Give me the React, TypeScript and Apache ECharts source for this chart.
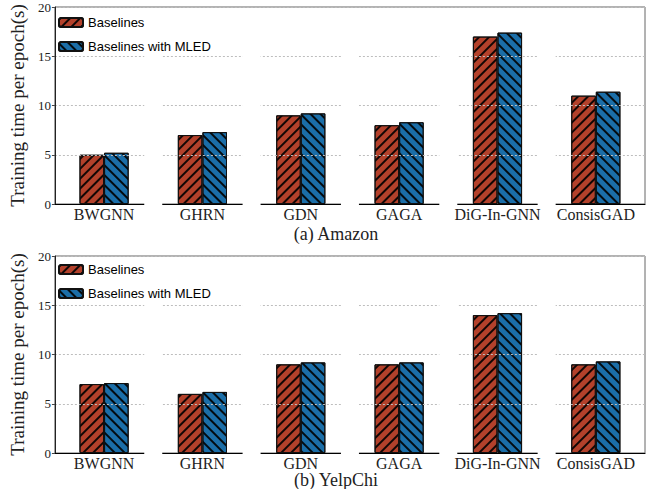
import React, { useEffect, useRef } from "react";
import * as echarts from "echarts";

const categories = ["BWGNN", "GHRN", "GDN", "GAGA", "DiG-In-GNN", "ConsisGAD"];
const amazonBaselines = [5.0, 7.0, 9.0, 8.0, 17.0, 11.0];
const amazonMLED = [5.2, 7.3, 9.2, 8.3, 17.4, 11.4];
const yelpBaselines = [7.0, 6.0, 9.0, 9.0, 14.0, 9.0];
const yelpMLED = [7.1, 6.2, 9.2, 9.2, 14.2, 9.3];
const yTicks = [0, 5, 10, 15, 20];
const seriesNames = ["Baselines", "Baselines with MLED"];
const captions = ["(a) Amazon", "(b) YelpChi"];
const yTitle = "Training time per epoch(s)";

const RED = "#B3412B";
const BLUE = "#1B6EA8";
const SERIF = "'Liberation Serif', 'Times New Roman', serif";
const SANS = "'Liberation Sans', Arial, sans-serif";

const hatch = (dir: number) => ({
  symbol: "rect",
  symbolSize: 1,
  color: "rgba(0,0,0,0.9)",
  dashArrayX: [1, 0],
  dashArrayY: [1.2, 4.4],
  rotation: dir * Math.PI / 4,
});

export default function App() {
  const ref = useRef<HTMLDivElement>(null);
  useEffect(() => {
    if (!ref.current) return;
    const chart = echarts.init(ref.current, undefined, { renderer: "svg" });
    const grids = [
      { left: 51, right: 10, top: 7, height: 197 },
      { left: 51, right: 10, top: 256, height: 197 },
    ];
    const data = [
      [amazonBaselines, amazonMLED],
      [yelpBaselines, yelpMLED],
    ];
    const xAxis: any[] = [];
    const yAxis: any[] = [];
    const series: any[] = [];
    const legend: any[] = [];
    grids.forEach((g, gi) => {
      xAxis.push({
        type: "category",
        gridIndex: gi,
        data: categories,
        z: 3,
        axisLine: { lineStyle: { color: "#000", width: 1.2 } },
        axisTick: { alignWithLabel: true, length: 3, lineStyle: { color: "#000" } },
        axisLabel: {
          interval: 0,
          fontFamily: SERIF,
          fontSize: 16,
          lineHeight: 15,
          color: "#222",
          margin: 3,
        },
      });
      yAxis.push({
        type: "value",
        gridIndex: gi,
        min: 0,
        max: 20,
        interval: 5,
        z: 3,
        name: yTitle,
        nameLocation: "middle",
        nameGap: 22,
        nameTextStyle: { fontFamily: SERIF, fontSize: 19, color: "#222" },
        axisLine: { show: true, lineStyle: { color: "#222", width: 1 } },
        axisTick: { show: true, length: 3, lineStyle: { color: "#444" } },
        axisLabel: {
          fontFamily: SERIF,
          fontSize: 13,
          color: "#222",
          margin: 4,
          formatter: (v: number) => (yTicks.includes(v) ? String(v) : ""),
        },
        splitLine: { show: true, lineStyle: { color: "#bdbdbd", type: [2, 2], width: 1 } },
      });
      seriesNames.forEach((name, si) => {
        series.push({
          type: "bar",
          name,
          xAxisIndex: gi,
          yAxisIndex: gi,
          data: data[gi][si],
          barWidth: "25%",
          barGap: "0%",
          itemStyle: {
            color: si === 0 ? RED : BLUE,
            borderColor: "#111",
            borderWidth: 1,
            decal: hatch(si === 0 ? -1 : 1),
          },
        });
      });
      series.push({
        type: "custom",
        name: "gaps" + gi,
        xAxisIndex: gi,
        yAxisIndex: gi,
        z: 5,
        silent: true,
        data: [0, 1, 2, 3, 4].map((i) => [i]),
        renderItem: (params: any, api: any) => {
          const i = api.value(0);
          const a = api.coord([i, 16.5]);
          const b = api.coord([i + 1, 0]);
          const x = (a[0] + b[0]) / 2;
          return {
            type: "rect",
            shape: { x: x - 9, y: a[1], width: 18, height: b[1] - a[1] + 2 },
            style: { fill: "#fff" },
          };
        },
      });
      legend.push({
        data: seriesNames,
        orient: "vertical",
        left: 58,
        top: gi === 0 ? 16 : 263,
        z: 10,
        itemWidth: 24,
        itemHeight: 9,
        itemGap: 11,
        textStyle: { fontFamily: SANS, fontSize: 13, color: "#000" },
        padding: 0,
      });
    });
    chart.setOption({
      animation: false,
      backgroundColor: "#fff",
      grid: grids.map((g) => ({ ...g, show: true, borderColor: "#666", borderWidth: 1 })),
      legend,
      xAxis,
      yAxis,
      series,
      graphic: captions.map((c, i) => ({
        type: "text",
        x: 336,
        y: i === 0 ? 234 : 480,
        style: {
          text: c,
          fontFamily: SERIF,
          fontSize: 18,
          lineHeight: 16,
          fill: "#222",
          textAlign: "center",
          textVerticalAlign: "middle",
        },
      })),
    });
    return () => chart.dispose();
  }, []);
  return (
    <div
      ref={ref}
      style={{ position: "fixed", left: 0, top: 0, width: 655, height: 489 }}
    />
  );
}
